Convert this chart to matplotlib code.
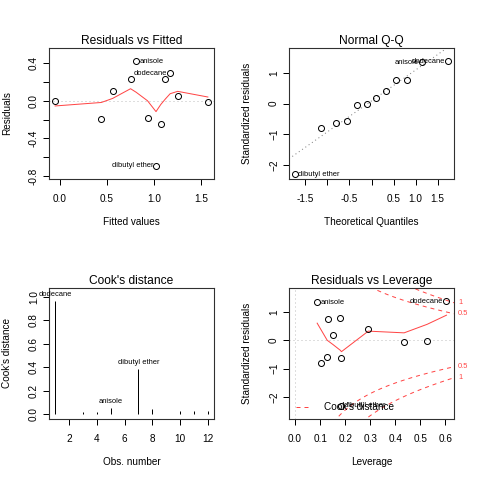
import matplotlib
matplotlib.use("Agg")
import matplotlib.pyplot as plt
from matplotlib.transforms import blended_transform_factory
import numpy as np

plt.rcParams["font.family"] = ["Liberation Sans", "DejaVu Sans"]

obs_number = [1, 2, 3, 4, 5, 6, 7, 8, 9, 10, 11, 12]
obs_labels = {1: "dodecane", 5: "anisole", 7: "dibutyl ether"}
fitted_values = [1.17, 1.25, 0.56, 0.44, 0.81, -0.05, 1.02, 1.12, 1.57, 0.75, 1.07, 0.93]
residuals = [0.29, 0.05, 0.10, -0.19, 0.42, 0.00, -0.69, 0.23, -0.01, 0.23, -0.25, -0.18]
std_residuals = [1.37, 0.18, 0.40, -0.58, 1.34, -0.05, -2.30, 0.78, -0.02, 0.76, -0.80, -0.64]
leverage = [0.604, 0.151, 0.292, 0.128, 0.088, 0.435, 0.185, 0.180, 0.527, 0.131, 0.102, 0.185]
cooks_distance = [0.963, 0.004, 0.022, 0.020, 0.057, 0.004, 0.383, 0.046, 0.002, 0.029, 0.029, 0.029]
qq_theoretical = [-1.73, -1.15, -0.81, -0.55, -0.32, -0.10, 0.10, 0.32, 0.55, 0.81, 1.15, 1.73]

# red smoother lines
fitted_smooth_x = [-0.05, 0.44, 0.56, 0.75, 0.81, 0.93, 1.02, 1.07, 1.12, 1.17, 1.25, 1.57]
fitted_smooth_y = [-0.055, -0.018, 0.025, 0.128, 0.09, 0.0, -0.115, -0.04, 0.02, 0.075, 0.10, 0.04]
lev_smooth_x = [0.088, 0.102, 0.128, 0.131, 0.151, 0.180, 0.185, 0.292, 0.435, 0.527, 0.604]
lev_smooth_y = [0.60, 0.39, 0.0, -0.02, -0.15, -0.35, -0.40, 0.32, 0.26, 0.56, 0.88]

n_params = 3
cook_levels = [0.5, 1.0]

RED = "#FF4545"
GRAY = "#BEBEBE"
DOT = (0, (1, 3))
DASH = (0, (4, 4))

W = H = 480.0


def panel(fig, left, top):
    return fig.add_axes([left / W, 1 - (top + 131) / H, 165 / W, 131 / H])


def style(ax, title, xlabel, ylabel):
    for s in ax.spines.values():
        s.set_linewidth(1.1)
        s.set_color("#303030")
    ax.tick_params(direction="out", length=6, width=1, labelsize=10)
    ax.tick_params(axis="x", pad=9)
    ax.tick_params(axis="y", pad=4)
    for lab in ax.get_yticklabels():
        lab.set_rotation(90)
        lab.set_va("center")
    ax.annotate(title, xy=(0.5, 1), xycoords="axes fraction", xytext=(0, 4),
                textcoords="offset points", ha="center", va="baseline", fontsize=12)
    ax.annotate(xlabel, xy=(0.5, 0), xycoords="axes fraction", xytext=(0, -43),
                textcoords="offset points", ha="center", va="center", fontsize=10)
    ax.annotate(ylabel, xy=(0, 0.5), xycoords="axes fraction", xytext=(-42, 0),
                textcoords="offset points", ha="center", va="center", fontsize=10,
                rotation=90)


def label_point(ax, x, y, text, side):
    dx = 3 if side == "right" else -3
    ax.annotate(text, xy=(x, y), xytext=(dx, 0), textcoords="offset points",
                ha="left" if side == "right" else "right", va="center",
                fontsize=7.5, annotation_clip=False)


def circles(ax, x, y):
    ax.plot(x, y, "o", ms=6, mfc="none", mec="black", mew=1, zorder=3, clip_on=False)


def main():
    fig = plt.figure(figsize=(W / 72, H / 72), dpi=72)

    fv = np.array(fitted_values)
    res = np.array(residuals)
    rs = np.array(std_residuals)
    hat = np.array(leverage)

    # Residuals vs Fitted
    ax = panel(fig, 49, 48)
    ax.axhline(0, color=GRAY, lw=1, ls=DOT)
    ax.plot(fitted_smooth_x, fitted_smooth_y, color=RED, lw=1)
    circles(ax, fv, res)
    ax.set_xlim(-0.115, 1.635)
    ax.set_ylim(-0.83, 0.56)
    ax.set_xticks([0.0, 0.5, 1.0, 1.5])
    ax.set_yticks([-0.8, -0.6, -0.4, -0.2, 0.0, 0.2, 0.4])
    ax.set_yticklabels(["-0.8", "", "-0.4", "", "0.0", "", "0.4"])
    style(ax, "Residuals vs Fitted", "Fitted values", "Residuals")
    label_point(ax, fv[4], res[4], obs_labels[5], "right")
    label_point(ax, fv[0], res[0], obs_labels[1], "left")
    label_point(ax, fv[6], res[6], obs_labels[7], "left")

    # Normal Q-Q
    ax = panel(fig, 289, 48)
    order = np.argsort(rs)
    qx = np.array(qq_theoretical)
    qy = rs[order]
    q1, q3 = np.quantile(rs, [0.25, 0.75])
    z1, z3 = -0.6745, 0.6745
    slope = (q3 - q1) / (z3 - z1)
    icpt = q1 - slope * z1
    ax.axline((0, icpt), slope=slope, color="#7F7F7F", lw=1, ls=DOT)
    circles(ax, qx, qy)
    ax.set_xlim(-1.87, 1.87)
    ax.set_ylim(-2.46, 1.81)
    ax.set_xticks([-1.5, -1.0, -0.5, 0.0, 0.5, 1.0, 1.5])
    ax.set_xticklabels(["-1.5", "", "-0.5", "", "0.5", "1.0", "1.5"])
    ax.set_yticks([-2, -1, 0, 1])
    style(ax, "Normal Q-Q", "Theoretical Quantiles", "Standardized residuals")
    for k, idx in enumerate(order):
        name = obs_labels.get(idx + 1)
        if name:
            label_point(ax, qx[k], qy[k], name, "right" if qx[k] < 0 else "left")

    # Cook's distance
    ax = panel(fig, 49, 288)
    ax.vlines(obs_number, 0, cooks_distance, color="black", lw=1)
    ax.set_xlim(0.56, 12.44)
    ax.set_ylim(-0.041, 1.077)
    ax.set_xticks([2, 4, 6, 8, 10, 12])
    ax.set_yticks([0.0, 0.2, 0.4, 0.6, 0.8, 1.0])
    ax.set_yticklabels(["0.0", "0.2", "0.4", "0.6", "0.8", "1.0"])
    style(ax, "Cook's distance", "Obs. number", "Cook's distance")
    for num, name in obs_labels.items():
        ax.annotate(name, xy=(num, cooks_distance[num - 1]), xytext=(0, 3),
                    textcoords="offset points", ha="center", va="bottom",
                    fontsize=7.5, annotation_clip=False)

    # Residuals vs Leverage
    ax = panel(fig, 289, 288)
    xlo, xhi = -0.0244, 0.634
    ax.axhline(0, color=GRAY, lw=1, ls=DOT)
    ax.axvline(0, color=GRAY, lw=1, ls=DOT)
    hh = np.linspace(0.0009, xhi, 101)
    for i, lev in enumerate(cook_levels):
        cl = np.sqrt(lev * n_params * (1 - hh) / hh)
        ax.plot(hh, cl, color=RED, lw=1, ls=DASH,
                label="Cook's distance" if i == 0 else None)
        ax.plot(hh, -cl, color=RED, lw=1, ls=DASH)
    ax.plot(lev_smooth_x, lev_smooth_y, color=RED, lw=1)
    circles(ax, hat, rs)
    ax.set_xlim(xlo, xhi)
    ax.set_ylim(-2.764, 1.834)
    ax.set_xticks([0.0, 0.1, 0.2, 0.3, 0.4, 0.5, 0.6])
    ax.set_yticks([-2, -1, 0, 1])
    style(ax, "Residuals vs Leverage", "Leverage", "Standardized residuals")
    label_point(ax, hat[4], rs[4], obs_labels[5], "right")
    label_point(ax, hat[0], rs[0], obs_labels[1], "left")
    label_point(ax, hat[6], rs[6], obs_labels[7], "right")
    ax.legend(loc="lower left", frameon=False, fontsize=10, handlelength=1.6,
              handletextpad=1.2, borderpad=0.3, borderaxespad=0.4)
    trans = blended_transform_factory(ax.transAxes, ax.transData)
    ymult = np.sqrt(n_params * (1 - xhi) / xhi)
    for lev in cook_levels:
        for sign in (1, -1):
            ax.annotate(f"{lev:g}", xy=(1, sign * np.sqrt(lev) * ymult), xycoords=trans,
                        xytext=(4, 0), textcoords="offset points", ha="left",
                        va="center", fontsize=7.5, color=RED, annotation_clip=False)

    fig.savefig("out.png", dpi=72)
    plt.close(fig)


if __name__ == "__main__":
    main()
